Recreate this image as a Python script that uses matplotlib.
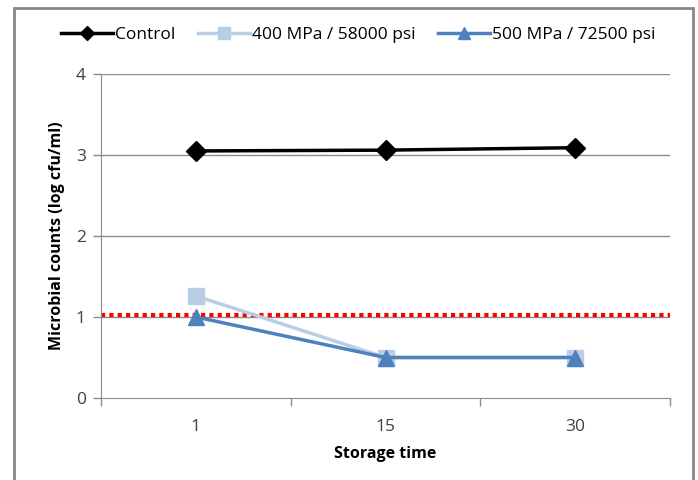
import matplotlib.pyplot as plt
from matplotlib.patches import Rectangle

days = ["1", "15", "30"]
control = [3.05, 3.06, 3.09]
mpa400 = [1.26, 0.5, 0.5]
mpa500 = [1.0, 0.5, 0.5]
detect_limit = 1.02

plt.rcParams['font.family'] = ['Open Sans', 'DejaVu Sans']

fig = plt.figure(figsize=(6.98, 4.8), dpi=100)
ax = fig.add_axes([101 / 698, 1 - 398 / 480, 569 / 698, 324 / 480])

# outer chart frame
fig.patches.append(Rectangle((14 / 698, -0.1), 679 / 698, 1.1 - 8 / 480,
                             transform=fig.transFigure, fill=False,
                             edgecolor='#868686', linewidth=2))

x = list(range(len(days)))
grid_c = '#8c8c8c'

for y in [1, 2, 3, 4]:
    ax.axhline(y, color=grid_c, linewidth=1, zorder=1)

ax.axhline(detect_limit, color='#ff0000', linewidth=3, linestyle=(0, (1, 1)), zorder=2)

ax.plot(x, control, color='black', linewidth=2.5, marker='D', markersize=10,
        label='Control', zorder=5)
ax.plot(x, mpa400, color='#b9cde5', linewidth=2.5, marker='s', markersize=11,
        label='400 MPa / 58000 psi', zorder=3)
ax.plot(x, mpa500, color='#4f81bd', linewidth=2.5, marker='^', markersize=12,
        label='500 MPa / 72500 psi', zorder=4)

ax.set_xlim(-0.5, 2.5)
ax.set_ylim(0, 4)
ax.set_yticks([0, 1, 2, 3, 4])
ax.set_xticks(x)
ax.set_xticklabels(days)
ax.set_xticks([-0.5, 0.5, 1.5, 2.5], minor=True)
ax.tick_params(axis='x', which='major', length=0, pad=15, labelsize=12.5, colors='#404040')
ax.tick_params(axis='x', which='minor', length=6, color=grid_c, width=1)
ax.tick_params(axis='y', length=6, color=grid_c, width=1, labelsize=12.5, colors='#404040', pad=5)

for s in ['top', 'right']:
    ax.spines[s].set_visible(False)
ax.spines['left'].set_color(grid_c)
ax.spines['bottom'].set_color(grid_c)

ax.set_xlabel('Storage time', fontsize=11.5, fontweight='bold', labelpad=8)
ax.set_ylabel('Microbial counts (log cfu/ml)', fontsize=11.5, fontweight='bold', labelpad=8)

fig.legend(loc='center', bbox_to_anchor=(358 / 698, 1 - 35 / 480), ncol=3, frameon=False,
           fontsize=12.5, handlelength=3, columnspacing=1.3, handletextpad=0.1,
           markerscale=0.75)

fig.savefig('out.png', dpi=100)
